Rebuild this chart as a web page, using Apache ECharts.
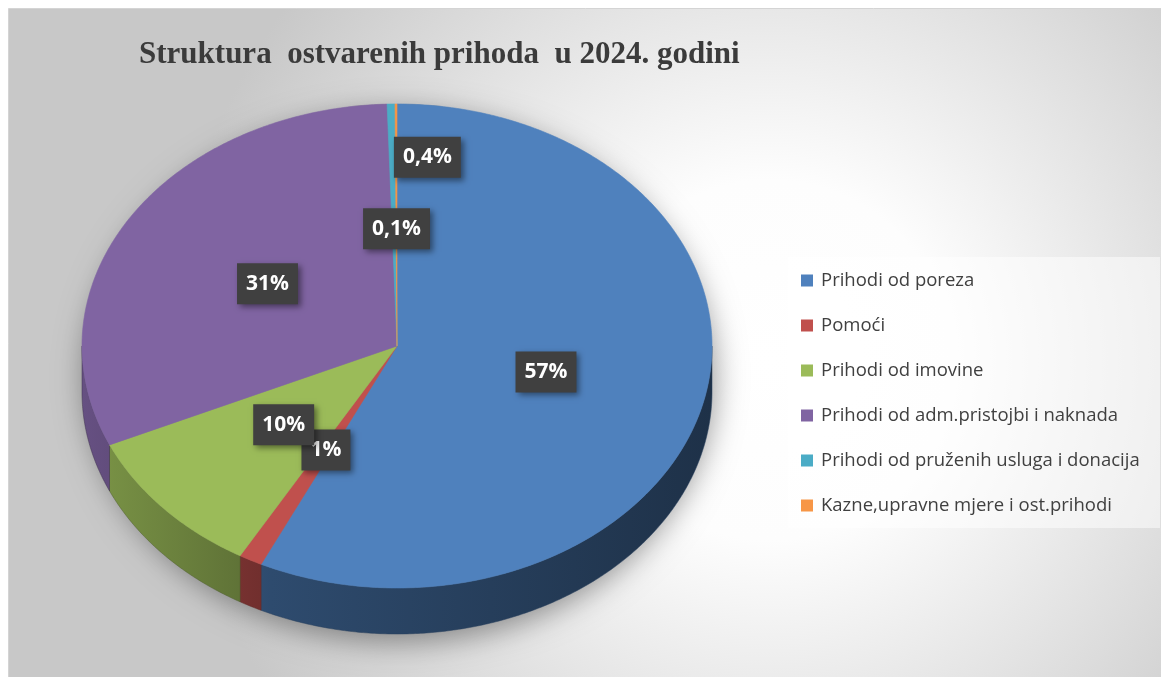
<!DOCTYPE html>
<html>
<head>
<meta charset="utf-8">
<title>Struktura ostvarenih prihoda u 2024. godini</title>
<script src="https://cdn.jsdelivr.net/npm/echarts@6/dist/echarts.min.js"></script>
<style>
  html, body { margin: 0; padding: 0; background: #fff; }
  #chart { width: 1161px; height: 677px; }
</style>
</head>
<body>
<div id="chart"></div>
<script>
// podaci (udio u %)
const categories = [
  "Prihodi od poreza",
  "Pomoći",
  "Prihodi od imovine",
  "Prihodi od adm.pristojbi i naknada",
  "Prihodi od pruženih usluga i donacija",
  "Kazne,upravne mjere i ost.prihodi",
];
const shares = [57.1, 1.2, 10.0, 31.2, 0.4, 0.1];
const colors = ["#4f81bd", "#c0504d", "#9bbb59", "#8064a2", "#4bacc6", "#f79646"];
const titleText = "Struktura  ostvarenih prihoda  u 2024. godini";

// geometrija "3D" pite
const CX = 397, CY = 346, RX = 315, RY = 242, DEPTH = 46;
// pomak oznake za mali isječak da se ne preklapa
const labelRadius = [0.485, 0.485, 0.485, 0.485, 0.78, 0.485];
const labelShiftX = [0, 0, 0, 0, 35, 0];

const total = shares.reduce((a, b) => a + b, 0);

function pt(deg, k, dy) {
  const r = (deg * Math.PI) / 180;
  return [CX + RX * k * Math.sin(r), CY - RY * k * Math.cos(r) + (dy || 0)];
}
function arc(a0, a1, dy) {
  const pts = [];
  const n = Math.max(2, Math.ceil((a1 - a0) / 0.5));
  for (let j = 0; j <= n; j++) pts.push(pt(a0 + ((a1 - a0) * j) / n, 1, dy));
  return pts;
}
function shade(hex, f) {
  const n = parseInt(hex.slice(1), 16);
  const r = Math.round(((n >> 16) & 255) * f);
  const g = Math.round(((n >> 8) & 255) * f);
  const b = Math.round((n & 255) * f);
  return "rgb(" + r + "," + g + "," + b + ")";
}
function pctLabel(v) {
  const p = (v / total) * 100;
  return p >= 1 ? Math.round(p) + "%" : p.toFixed(1).replace(".", ",") + "%";
}

function makeRender(i) {
  return function (params, api) {
    const before = shares.slice(0, i).reduce((a, b) => a + b, 0);
    const start = (before / total) * 360;
    const end = start + (api.value(0) / total) * 360;
    const children = [];

    // bočna stranica (vidljiva samo sprijeda, 90°-270°)
    const s0 = Math.max(start, 90), s1 = Math.min(end, 270);
    if (s1 > s0) {
      const topEdge = arc(s0, s1, 0);
      const bottomEdge = arc(s0, s1, DEPTH).reverse();
      children.push({
        type: "polygon",
        z2: 1,
        shape: { points: topEdge.concat(bottomEdge) },
        style: {
          fill: new echarts.graphic.LinearGradient(CX - RX, 0, CX + RX, 0, [
            { offset: 0, color: shade(colors[i], 0.8) },
            { offset: 0.3, color: shade(colors[i], 0.58) },
            { offset: 1, color: shade(colors[i], 0.38) },
          ], true),
          stroke: shade(colors[i], 0.5),
          lineWidth: 0.5,
        },
      });
    }

    // gornja ploha
    children.push({
      type: "polygon",
      z2: 5,
      shape: { points: [[CX, CY]].concat(arc(start, end, 0)) },
      style: { fill: colors[i], stroke: colors[i], lineWidth: 0.6 },
    });

    // oznaka
    const mid = (start + end) / 2;
    const p = pt(mid, labelRadius[i], 0);
    children.push({
      type: "text",
      z2: 10,
      x: p[0] + labelShiftX[i],
      y: p[1],
      style: {
        text: pctLabel(api.value(0)),
        fill: "#ffffff",
        font: "bold 21px 'Open Sans', Lato, sans-serif",
        align: "center",
        verticalAlign: "middle",
        lineHeight: 22,
        backgroundColor: "#404040",
        padding: [10, 9, 9, 9],
        shadowBlur: 6,
        shadowColor: "rgba(0,0,0,0.45)",
        shadowOffsetX: 3,
        shadowOffsetY: 3,
      },
    });

    return { type: "group", children: children };
  };
}

const chart = echarts.init(document.getElementById("chart"));

const series = categories.map((name, i) => ({
  name: name,
  type: "custom",
  coordinateSystem: "none",
  itemStyle: { color: colors[i] },
  renderItem: makeRender(i),
  data: [shares[i]],
}));

chart.setOption({
  animation: false,
  title: {
    text: titleText,
    left: 139,
    top: 39,
    padding: 0,
    textStyle: {
      fontFamily: "'Liberation Serif', serif",
      fontWeight: "bold",
      fontSize: 31,
      color: "#3b3b3b",
    },
  },
  legend: {
    orient: "vertical",
    left: 801,
    top: 271,
    padding: 0,
    icon: "rect",
    itemWidth: 12,
    itemHeight: 12,
    itemGap: 26,
    data: categories,
    selectedMode: false,
    textStyle: {
      fontFamily: "'Open Sans', Lato, sans-serif",
      fontSize: 18.5,
      lineHeight: 18,
      color: "#404040",
      padding: [0, 0, 0, 3],
    },
  },
  graphic: [
    {
      type: "rect",
      z: -10,
      shape: { x: 8.5, y: 8.5, width: 1160, height: 676 },
      style: {
        fill: new echarts.graphic.RadialGradient(770, 360, 600, [
          { offset: 0, color: "#ffffff" },
          { offset: 0.3, color: "#fdfdfd" },
          { offset: 1, color: "#c8c8c8" },
        ], true),
        stroke: "#d4d4d4",
        lineWidth: 1,
      },
    },
    {
      // sjena ispod pite
      type: "ellipse",
      z: -5,
      shape: { cx: CX, cy: CY + DEPTH / 2, rx: RX, ry: RY + DEPTH / 2 },
      style: {
        fill: "#8a8a8a",
        shadowBlur: 30,
        shadowColor: "rgba(0,0,0,0.4)",
        shadowOffsetX: 3,
        shadowOffsetY: 8,
      },
    },
    {
      // pozadina legende
      type: "rect",
      z: -4,
      shape: { x: 788, y: 257, width: 372, height: 271 },
      style: { fill: "rgba(255,255,255,0.5)" },
    },
  ],
  series: series,
});
</script>
</body>
</html>
